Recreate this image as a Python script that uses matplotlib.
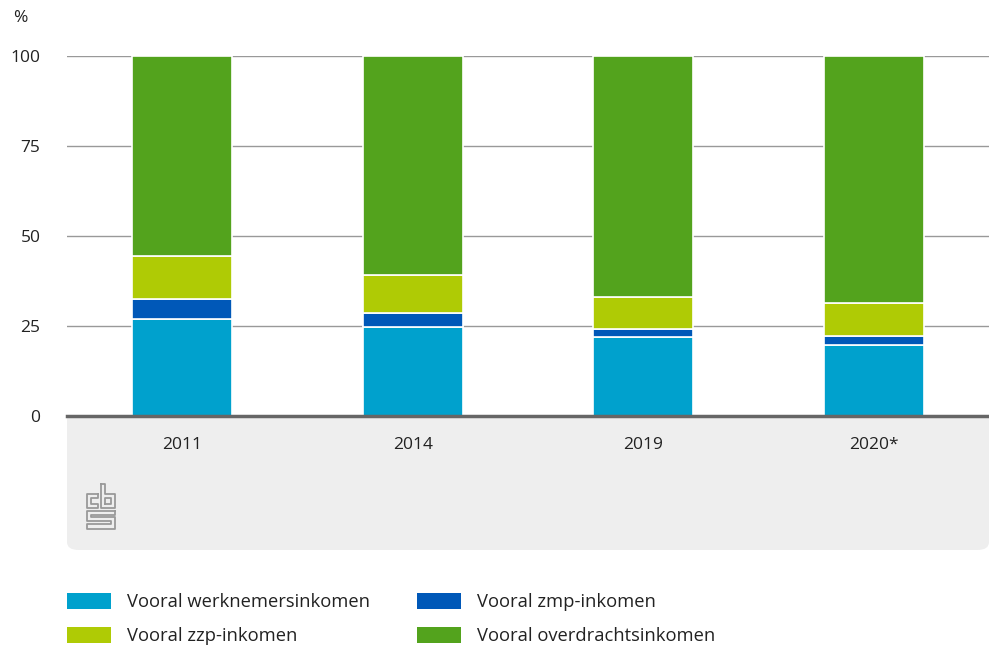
import matplotlib
matplotlib.use("Agg")
import matplotlib.pyplot as plt
from matplotlib.patches import FancyBboxPatch, Patch
import numpy as np

plt.rcParams['font.family'] = ['Open Sans', 'DejaVu Sans']

years = ['2011', '2014', '2019', '2020*']
werknemers = [27.0, 24.6, 21.9, 19.8]
zmp = [5.6, 3.9, 2.3, 2.5]
zzp = [11.8, 10.8, 8.9, 9.0]
overdracht = [55.6, 60.7, 66.9, 68.7]

series = [
    ('Vooral werknemersinkomen', werknemers, '#00a1cd'),
    ('Vooral zmp-inkomen', zmp, '#0058b8'),
    ('Vooral zzp-inkomen', zzp, '#afcb05'),
    ('Vooral overdrachtsinkomen', overdracht, '#53a31d'),
]

W, H = 989, 648
fig = plt.figure(figsize=(W / 100, H / 100), dpi=100)

# grey panel under the axis (top part hidden behind the white axes)
panel = FancyBboxPatch((67 / W, 1 - 550 / H), (989 - 67) / W, (550 - 380) / H,
                       boxstyle='round,pad=0,rounding_size=0.012',
                       transform=fig.transFigure, facecolor='#eeeeee',
                       edgecolor='none', zorder=-1)
fig.add_artist(panel)

ax = fig.add_axes([67 / W, 1 - 416 / H, (989 - 67) / W, (416 - 56) / H])
ax.set_facecolor('white')

x = np.arange(len(years))
bottom = np.zeros(len(years))
for name, vals, col in series:
    ax.bar(x, vals, 0.434, bottom=bottom, color=col, edgecolor='white',
           linewidth=1.2, label=name, zorder=3)
    bottom += np.array(vals)

ax.set_xlim(-0.5, len(years) - 0.5)
ax.set_ylim(0, 100)
ax.set_yticks([0, 25, 50, 75, 100])
ax.set_xticks(x)
ax.set_xticklabels(years)
ax.tick_params(axis='y', length=0, pad=19, labelsize=12.5, colors='#222222')
ax.tick_params(axis='x', length=0, pad=15, labelsize=12.5, colors='#222222')
ax.yaxis.grid(True, color='#999999', linewidth=1, zorder=1)
for s in ['top', 'right', 'left']:
    ax.spines[s].set_visible(False)
ax.spines['bottom'].set_color('#666666')
ax.spines['bottom'].set_linewidth(2.5)
ax.spines['bottom'].set_zorder(4)

fig.text(13 / W, 1 - 18 / H, '%', fontsize=12.5, color='#222222', va='center')

# cbs logo
lax = fig.add_axes([84 / W, 1 - 532 / H, 38 / W, 52 / H])
lax.set_xlim(0, 38)
lax.set_ylim(0, 52)
lax.axis('off')
lc = '#999999'
lw = 1.3
lax.plot([14, 3, 3, 14, 14, 7, 7, 14, 14], [38, 38, 24, 24, 28, 28, 34, 34, 38], color=lc, lw=lw)
lax.plot([17, 17, 31, 31, 21, 21, 17], [48, 24, 24, 38, 38, 48, 48], color=lc, lw=lw)
lax.plot([21, 27, 27, 21, 21], [28, 28, 34, 34, 28], color=lc, lw=lw)
lax.plot([31, 3, 3, 27, 27, 3, 3, 31, 31, 7, 7, 31, 31],
         [21, 21, 11, 11, 8, 8, 3, 3, 15, 15, 17, 17, 21], color=lc, lw=lw)

handles = [Patch(facecolor=c, label=n) for n, v, c in series]
order = [0, 2, 1, 3]
fig.legend([handles[i] for i in order], [series[i][0] for i in order],
           ncol=2, loc='upper left', bbox_to_anchor=(67 / W, 1 - 593 / H),
           frameon=False, fontsize=13.2, handlelength=2.4, handleheight=0.95,
           handletextpad=0.85, labelspacing=0.85, columnspacing=2.6,
           borderaxespad=0, borderpad=0, labelcolor='#222222')

fig.savefig('out.png', dpi=100)
